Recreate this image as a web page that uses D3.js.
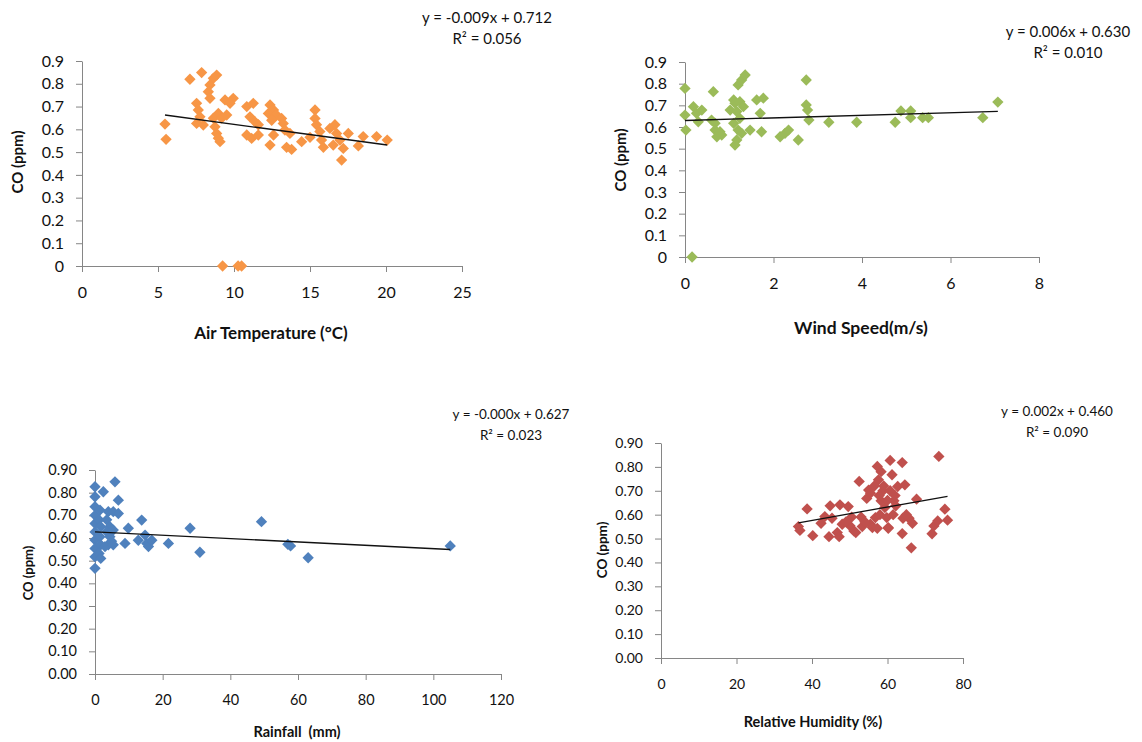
<!DOCTYPE html>
<html>
<head>
<meta charset="utf-8">
<script src="https://cdn.jsdelivr.net/npm/d3@7"></script>
<style>
    body { margin: 0; background: #fff; }
    svg text { font-family: Lato, "Open Sans", sans-serif; fill: #111; }
    .axis path, .axis line { stroke: #868686; }
</style>
</head>
<body>
<svg id="chart" width="1142" height="742"></svg>
<script>

// Air temperature vs CO
const tempX = [5.46, 5.53, 7.1, 7.87, 8.64, 8.86, 8.42, 8.31, 8.42, 7.54, 7.65, 7.76, 7.54, 7.98,
    8.64, 8.97, 9.19, 9.52, 8.75, 8.86, 9.08, 8.97, 9.41, 9.95, 9.74, 10.84, 11.27, 11.05, 11.38,
    11.6, 10.84, 11.16, 11.6, 12.37, 12.6, 12.26, 12.8, 12.48, 13.13, 13.24, 12.6, 12.37, 13.35,
    13.68, 13.46, 13.79, 14.45, 15.0, 15.33, 15.33, 15.43, 15.65, 15.76, 15.88, 16.31, 16.64,
    16.75, 16.97, 16.53, 17.08, 17.19, 17.52, 18.18, 18.5, 19.38, 20.08, 9.25, 10.27, 10.5];
const tempCO = [0.623, 0.556, 0.82, 0.849, 0.824, 0.838, 0.795, 0.765, 0.736, 0.714, 0.685, 0.655,
    0.626, 0.619, 0.649, 0.67, 0.649, 0.663, 0.611, 0.582, 0.546, 0.561, 0.729, 0.736, 0.714, 0.70,
    0.714, 0.655, 0.633, 0.62, 0.575, 0.56, 0.575, 0.707, 0.685, 0.67, 0.663, 0.64, 0.648, 0.626,
    0.575, 0.531, 0.597, 0.582, 0.521, 0.512, 0.546, 0.565, 0.685, 0.648, 0.62, 0.59, 0.553, 0.521,
    0.604, 0.62, 0.582, 0.553, 0.531, 0.465, 0.516, 0.582, 0.527, 0.568, 0.568, 0.553, 0, 0, 0];

// Wind speed vs CO
const windX = [0, 0, 0.02, 0.19, 0.26, 0.38, 0.3, 0.64, 0.6, 0.68, 0.68, 0.79, 0.72, 0.83, 1.02,
    1.1, 1.2, 1.28, 1.36, 1.13, 1.24, 1.32, 1.17, 1.24, 1.1, 1.2, 1.17, 1.13, 1.28, 1.47, 1.62,
    1.77, 1.7, 1.73, 2.15, 2.26, 2.34, 2.56, 2.74, 2.74, 2.77, 2.8, 3.25, 3.88, 4.75, 4.88, 5.1,
    5.1, 5.37, 5.5, 6.73, 7.07, 0.16];
const windCO = [0.778, 0.655, 0.586, 0.694, 0.663, 0.678, 0.624, 0.763, 0.632, 0.617, 0.586, 0.578,
    0.555, 0.563, 0.678, 0.725, 0.794, 0.817, 0.84, 0.71, 0.717, 0.694, 0.671, 0.64, 0.617, 0.586,
    0.54, 0.517, 0.571, 0.586, 0.725, 0.733, 0.663, 0.578, 0.555, 0.571, 0.586, 0.54, 0.817, 0.702,
    0.678, 0.632, 0.622, 0.622, 0.622, 0.674, 0.674, 0.643, 0.643, 0.643, 0.643, 0.715, 0];

// Rainfall vs CO
const rainX = [0, 0, 0, 0, 0, 0, 0, 0, 0, 0, 1.48, 1.2, 1.7, 1.48, 1.7, 1.2, 1.7, 2.46, 5.9, 6.9,
    3.94, 5.4, 6.9, 3.45, 4.4, 3.45, 4.4, 5.4, 3.94, 4.9, 2.96, 5.4, 8.87, 9.85, 13.8, 12.8, 14.8,
    15.3, 15.8, 16.8, 21.7, 28.1, 31.0, 49.2, 57.0, 57.8, 63.0, 105.0];
const rainCO = [0.826, 0.782, 0.738, 0.70, 0.664, 0.627, 0.591, 0.554, 0.517, 0.466, 0.723, 0.68,
    0.65, 0.606, 0.57, 0.532, 0.51, 0.804, 0.848, 0.767, 0.716, 0.716, 0.708, 0.68, 0.65, 0.628,
    0.606, 0.635, 0.57, 0.586, 0.562, 0.57, 0.576, 0.643, 0.679, 0.59, 0.613, 0.576, 0.562, 0.59,
    0.576, 0.643, 0.537, 0.672, 0.572, 0.565, 0.513, 0.565];

// Relative humidity vs CO
const rhX = [36.4, 36.8, 38.7, 40.2, 42.4, 43.4, 44.8, 45.3, 44.5, 46.7, 47.2, 47.4, 48.0, 49.6,
    50.1, 51.1, 51.6, 52.5, 53.0, 53.3, 54.5, 55.0, 55.5, 56.0, 56.8, 57.3, 57.6, 57.3, 58.3, 58.8,
    59.3, 58.3, 59.8, 60.2, 60.7, 61.2, 60.7, 61.7, 60.2, 62.2, 62.7, 63.9, 64.1, 63.9, 64.6, 65.7,
    66.6, 66.3, 67.7, 71.8, 72.3, 73.3, 73.6, 75.2, 75.9, 56.5, 57.8, 59.0, 60.0, 61.5, 55.5, 58.0,
    62.0, 54.0, 50.5, 49.0, 65.0];
const rhCO = [0.55, 0.534, 0.624, 0.512, 0.564, 0.592, 0.637, 0.585, 0.508, 0.525, 0.508, 0.641,
    0.56, 0.634, 0.553, 0.532, 0.525, 0.739, 0.59, 0.55, 0.668, 0.703, 0.56, 0.546, 0.588, 0.802,
    0.746, 0.543, 0.78, 0.70, 0.63, 0.658, 0.588, 0.546, 0.827, 0.767, 0.70, 0.658, 0.543, 0.637,
    0.718, 0.818, 0.585, 0.521, 0.725, 0.585, 0.564, 0.461, 0.665, 0.52, 0.553, 0.574, 0.844, 0.623,
    0.577, 0.72, 0.68, 0.72, 0.66, 0.60, 0.69, 0.60, 0.68, 0.57, 0.59, 0.57, 0.60];

// tick labels
const tempTicks = [0, 5, 10, 15, 20, 25];
const windTicks = [0, 2, 4, 6, 8];
const rainTicks = [0, 20, 40, 60, 80, 100, 120];
const rhTicks = [0, 20, 40, 60, 80];
const coTicks = [0, 0.1, 0.2, 0.3, 0.4, 0.5, 0.6, 0.7, 0.8, 0.9];

// trendlines (slope, intercept) and the labels printed on the chart
const trendSlopes = [-0.009, 0.006, -0.00074, 0.0028];
const trendIntercepts = [0.712, 0.630, 0.627, 0.464];
const trendLabels = ["y = -0.009x + 0.712", "y = 0.006x + 0.630", "y = -0.000x + 0.627", "y = 0.002x + 0.460"];
const r2Labels = ["R² = 0.056", "R² = 0.010", "R² = 0.023", "R² = 0.090"];

const svg = d3.select("#chart");

const oneDec = d => String(+d.toFixed(1));
const twoDec = d3.format(".2f");

const panels = [
    {xs: tempX, ys: tempCO, xTicks: tempTicks, color: "#F79646", xr: [82, 462], yr: [266, 61],
     tickFont: 16, yFmt: oneDec, xTitle: "Air Temperature (°C)", xTitlePos: [271, 339], titleFont: 17,
     yTitlePos: [18, 162], yTitleFont: 15, eqPos: [487, 23], eqFont: 15},
    {xs: windX, ys: windCO, xTicks: windTicks, color: "#9BBB59", xr: [685, 1039], yr: [257, 62],
     tickFont: 16, yFmt: oneDec, xTitle: "Wind Speed(m/s)", xTitlePos: [861, 334], titleFont: 17.5,
     yTitlePos: [621, 160], yTitleFont: 15, eqPos: [1068, 37], eqFont: 15},
    {xs: rainX, ys: rainCO, xTicks: rainTicks, color: "#4F81BD", xr: [95, 501], yr: [674, 470],
     tickFont: 14.5, yFmt: twoDec, xTitle: "Rainfall\u00a0\u00a0(mm)", xTitlePos: [297, 737], titleFont: 14.5,
     yTitlePos: [28, 573], yTitleFont: 13, eqPos: [511, 419], eqFont: 13.5},
    {xs: rhX, ys: rhCO, xTicks: rhTicks, color: "#C0504D", xr: [661, 963], yr: [658, 443],
     tickFont: 14, yFmt: twoDec, xTitle: "Relative Humidity (%)", xTitlePos: [813, 727], titleFont: 14.5,
     yTitlePos: [602, 550], yTitleFont: 13.5, eqPos: [1057, 416], eqFont: 13.5}
];

const diamond = d3.symbol().type(d3.symbolSquare).size(64)();

panels.forEach((p, i) => {
    const xTickMax = p.xTicks[p.xTicks.length - 1];
    const x = d3.scaleLinear().domain([0, xTickMax]).range(p.xr);
    const y = d3.scaleLinear().domain([0, 0.9]).range(p.yr);

    const g = svg.append("g");

    // axes
    g.append("g")
        .attr("class", "axis")
        .attr("transform", `translate(0,${p.yr[0]})`)
        .call(d3.axisBottom(x).tickValues(p.xTicks).tickSize(6).tickSizeOuter(0).tickPadding(15))
        .call(a => a.selectAll("text").attr("font-size", p.tickFont).style("font-family", "Lato"));

    g.append("g")
        .attr("class", "axis")
        .attr("transform", `translate(${p.xr[0]},0)`)
        .call(d3.axisLeft(y).tickValues(coTicks).tickFormat(p.yFmt).tickSize(6).tickSizeOuter(0).tickPadding(12))
        .call(a => a.selectAll("text").attr("font-size", p.tickFont).style("font-family", "Lato"));

    // points
    g.append("g")
        .selectAll("path")
        .data(p.xs.map((v, k) => [v, p.ys[k]]))
        .join("path")
        .attr("d", diamond)
        .attr("transform", d => `translate(${x(d[0])},${y(d[1])}) rotate(45)`)
        .attr("fill", p.color);

    // trendline across the data range
    const xMin = d3.min(p.xs), xMax = d3.max(p.xs);
    g.append("line")
        .attr("x1", x(xMin))
        .attr("y1", y(trendSlopes[i] * xMin + trendIntercepts[i]))
        .attr("x2", x(xMax))
        .attr("y2", y(trendSlopes[i] * xMax + trendIntercepts[i]))
        .attr("stroke", "#111")
        .attr("stroke-width", 1.3);

    // equation
    g.append("text")
        .attr("x", p.eqPos[0]).attr("y", p.eqPos[1])
        .attr("text-anchor", "middle")
        .attr("font-size", p.eqFont)
        .text(trendLabels[i]);
    g.append("text")
        .attr("x", p.eqPos[0]).attr("y", p.eqPos[1] + 21)
        .attr("text-anchor", "middle")
        .attr("font-size", p.eqFont)
        .text(r2Labels[i]);

    // axis titles
    g.append("text")
        .attr("x", p.xTitlePos[0]).attr("y", p.xTitlePos[1])
        .attr("text-anchor", "middle")
        .attr("font-size", p.titleFont)
        .attr("font-weight", "bold")
        .text(p.xTitle);
    g.append("text")
        .attr("transform", `translate(${p.yTitlePos[0]},${p.yTitlePos[1]}) rotate(-90)`)
        .attr("text-anchor", "middle")
        .attr("dy", "0.35em")
        .attr("font-size", p.yTitleFont)
        .attr("font-weight", "bold")
        .text("CO (ppm)");
});

</script>
</body>
</html>
